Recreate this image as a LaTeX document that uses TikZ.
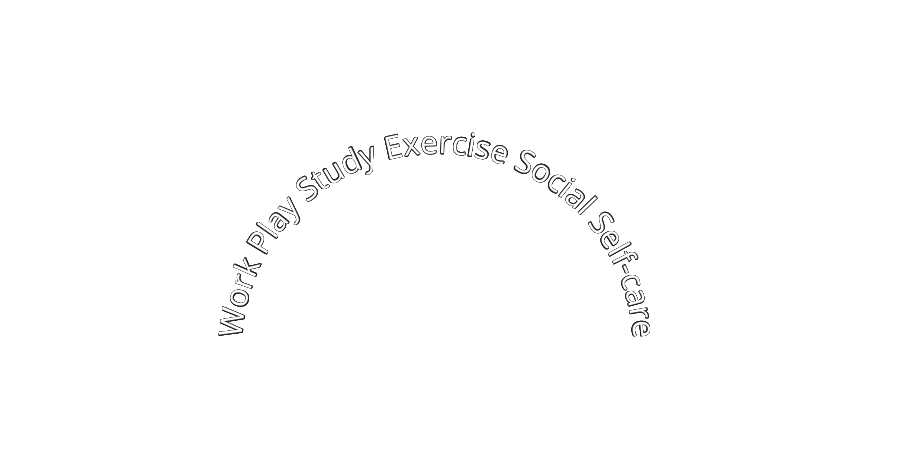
\documentclass[tikz,border=0pt]{standalone}
\usepackage{fontspec}
\setmainfont{Open Sans}
\usepackage{contour}
\contourlength{0.45pt}
\contournumber{24}
\usetikzlibrary{decorations.text}
\newcommand\outlchar[1]{\contour{black!85}{#1}}
\tikzset{
  arcfont/.style={font=\fontsize{31.5}{36}\selectfont},
  arctext/.style={
    decorate,
    decoration={text effects along path,
      text={Work Play Study Exercise Social Self-care},
      text align=center,
      text effects/.cd,
        text along path,
        characters={text=white, arcfont, inner sep=0pt},
        character command=\outlchar}
  }
}
\begin{document}
\begin{tikzpicture}[x=1pt,y=1pt,every node/.style={arcfont}]
\useasboundingbox (0,0) rectangle (903,456);
\coordinate (c) at (438,106);
\path[arctext] (242,106) arc[start angle=180, end angle=0, radius=196];
\end{tikzpicture}
\end{document}
